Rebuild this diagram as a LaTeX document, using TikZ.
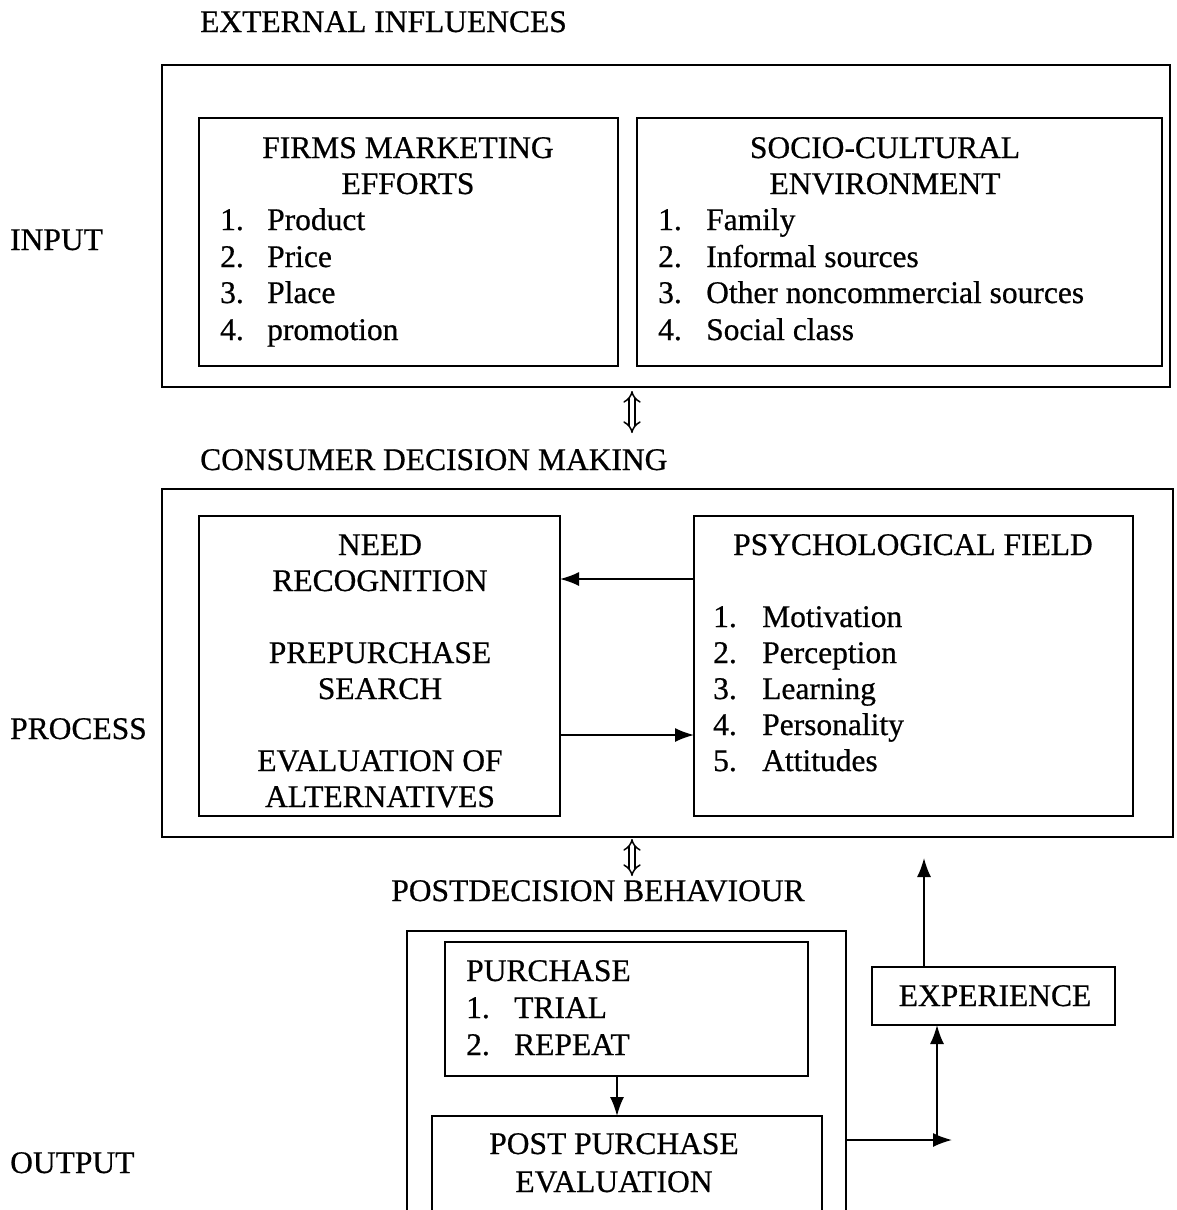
\documentclass[tikz,border=0pt]{standalone}
\usepackage{fontspec}
\setmainfont{Liberation Serif}[BoldFont=Liberation Serif, BoldFeatures={FakeBold=0.6}]
\usetikzlibrary{arrows.meta}
\tikzset{
  box/.style={draw, line width=1.7pt, inner sep=0pt, outer sep=0pt},
  txt/.style={font=\fontsize{31.5}{36}\selectfont\bfseries, inner sep=0pt, anchor=base},
  ltxt/.style={txt, anchor=base west},
  arr/.style={line width=1.7pt, -{Latex[length=19pt,width=14pt]}},
  dbl/.style={line width=1.5pt, double distance=4.5pt, {Implies[length=9pt]}-{Implies[length=9pt]}}
}
\begin{document}
\begin{tikzpicture}[x=1pt,y=-1pt]
\useasboundingbox (0,0) rectangle (1176,1210);
\clip (0,0) rectangle (1176,1210);
\fill[white] (0,0) rectangle (1176,1210);

% ---------- INPUT ----------
\node[ltxt] (extlbl) at (200,32) {EXTERNAL INFLUENCES};
\node[ltxt] (inputlbl) at (10,250) {INPUT};
\node[box, minimum width=1008pt, minimum height=322pt] (outer1) at (666,226) {};
\node[box, minimum width=419pt, minimum height=248pt] (firms) at (408.5,242) {};
\node[box, minimum width=525pt, minimum height=248pt] (socio) at (899.5,242) {};

\node[txt] (f1) at (408,158) {FIRMS MARKETING};
\node[txt] (f2) at (408,194) {EFFORTS};
\node[ltxt] (fn1) at (220,230) {1.};  \node[ltxt] (ft1) at (267,230) {Product};
\node[ltxt] (fn2) at (220,267) {2.};  \node[ltxt] (ft2) at (267,267) {Price};
\node[ltxt] (fn3) at (220,303) {3.};  \node[ltxt] (ft3) at (267,303) {Place};
\node[ltxt] (fn4) at (220,340) {4.};  \node[ltxt] (ft4) at (267,340) {promotion};

\node[txt] (s1) at (885,158) {SOCIO-CULTURAL};
\node[txt] (s2) at (885,194) {ENVIRONMENT};
\node[ltxt] (sn1) at (658,230) {1.};  \node[ltxt] (st1) at (706,230) {Family};
\node[ltxt] (sn2) at (658,267) {2.};  \node[ltxt] (st2) at (706,267) {Informal sources};
\node[ltxt] (sn3) at (658,303) {3.};  \node[ltxt] (st3) at (706,303) {Other noncommercial sources};
\node[ltxt] (sn4) at (658,340) {4.};  \node[ltxt] (st4) at (706,340) {Social class};

% ---------- PROCESS ----------
\coordinate (d1a) at (632,391);
\coordinate (d1b) at (632,433);
\draw[dbl] (d1a) -- (d1b);

\node[ltxt] (cdmlbl) at (200,470) {CONSUMER DECISION MAKING};
\node[ltxt] (processlbl) at (10,739) {PROCESS};
\node[box, minimum width=1011pt, minimum height=348pt] (outer2) at (667.5,663) {};
\node[box, minimum width=361pt, minimum height=300pt] (need) at (379.5,666) {};
\node[box, minimum width=439pt, minimum height=300pt] (psych) at (913.5,666) {};

\node[txt] (n1) at (380,555) {NEED};
\node[txt] (n2) at (380,591) {RECOGNITION};
\node[txt] (n3) at (380,663) {PREPURCHASE};
\node[txt] (n4) at (380,699) {SEARCH};
\node[txt] (n5) at (380,771) {EVALUATION OF};
\node[txt] (n6) at (380,807) {ALTERNATIVES};

\node[txt] (p0) at (913,555) {PSYCHOLOGICAL FIELD};
\node[ltxt] (pn1) at (713,627) {1.};  \node[ltxt] (pt1) at (762,627) {Motivation};
\node[ltxt] (pn2) at (713,663) {2.};  \node[ltxt] (pt2) at (762,663) {Perception};
\node[ltxt] (pn3) at (713,699) {3.};  \node[ltxt] (pt3) at (762,699) {Learning};
\node[ltxt] (pn4) at (713,735) {4.};  \node[ltxt] (pt4) at (762,735) {Personality};
\node[ltxt] (pn5) at (713,771) {5.};  \node[ltxt] (pt5) at (762,771) {Attitudes};

\draw[arr] (psych.west |- 0,579) -- (need.east |- 0,579);
\draw[arr] (need.east |- 0,735) -- (psych.west |- 0,735);

% ---------- OUTPUT ----------
\coordinate (d2a) at (632,839);
\coordinate (d2b) at (632,876);
\draw[dbl] (d2a) -- (d2b);

\node[txt] (pdblbl) at (598,901) {POSTDECISION BEHAVIOUR};
\node[ltxt] (outputlbl) at (10,1173) {OUTPUT};
\node[box, minimum width=439pt, minimum height=320pt] (outer3) at (626.5,1091) {};
\node[box, minimum width=363pt, minimum height=134pt] (purch) at (626.5,1009) {};
\node[box, minimum width=390pt, minimum height=130pt] (postp) at (627,1181) {};

\node[ltxt] (pu0) at (466,981) {PURCHASE};
\node[ltxt] (pun1) at (466,1018) {1.};  \node[ltxt] (put1) at (514,1018) {TRIAL};
\node[ltxt] (pun2) at (466,1055) {2.};  \node[ltxt] (put2) at (514,1055) {REPEAT};

\node[txt] (pp1) at (614,1154) {POST PURCHASE};
\node[txt] (pp2) at (614,1192) {EVALUATION};

\draw[arr] (617,0 |- purch.south) -- (617,0 |- postp.north);

\node[box, minimum width=243pt, minimum height=58pt] (exp) at (993.5,996) {};
\node[txt] (expt) at (995,1006) {EXPERIENCE};

\coordinate (outend) at (952,1140);
\coordinate (junc) at (937,1140);
\coordinate (fbend) at (924,858);
\draw[arr] (outer3.east |- outend) -- (outend);
\draw[arr] (junc) -- (junc |- exp.south);
\draw[arr] (fbend |- exp.north) -- (fbend);
\end{tikzpicture}
\end{document}
